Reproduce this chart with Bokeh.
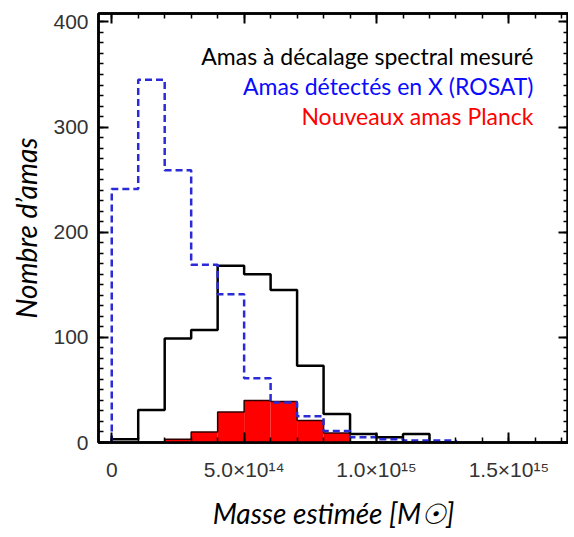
import numpy as np
from bokeh.plotting import figure
from bokeh.models import (LinearAxis, FixedTicker, CustomJSTickFormatter, Label, Range1d,
                          CustomLabelingPolicy)
from bokeh.embed import file_html
from bokeh.resources import INLINE

# ---- data ----
bin_edges = [k * 1e14 for k in range(0, 14)]          # 13 bins of 1e14 Msun
spectro = [3, 31, 99, 107, 168, 160, 145, 73, 27, 8, 5, 8, 0]      # Amas à décalage spectral mesuré
rosat   = [241, 345, 259, 169, 141, 61, 38, 25, 11, 5, 3, 2, 2]    # Amas détectés en X (ROSAT)
planck  = [0, 0, 3, 10, 29, 40, 39, 21, 9, 0, 0, 0, 0]             # Nouveaux amas Planck

x_ticks = [0, 5e14, 1e15, 1.5e15]
x_tick_labels = ["0", "5.0×10¹⁴", "1.0×10¹⁵", "1.5×10¹⁵"]
y_ticks = [0, 100, 200, 300, 400]

legend_texts = ["Amas à décalage spectral mesuré", "Amas détectés en X (ROSAT)", "Nouveaux amas Planck"]
legend_colors = ["#000000", "#0a0aff", "#ff0000"]


def step_outline(edges, counts):
    xs, ys = [edges[0]], [0]
    for i, c in enumerate(counts):
        xs += [edges[i], edges[i + 1]]
        ys += [c, c]
    xs.append(edges[len(counts)])
    ys.append(0)
    return xs, ys


p = figure(frame_width=470, frame_height=429, output_backend="svg", toolbar_location=None,
           x_range=Range1d(-0.5e14, 17.25e14), y_range=Range1d(0, 408),
           min_border_left=98, min_border_right=0, min_border_top=13, min_border_bottom=94,
           background_fill_color="white", border_fill_color="white")
p.grid.visible = False
p.outline_line_color = "black"
p.outline_line_width = 2.5

# red filled histogram (Planck)
left = bin_edges[:-1]
right = bin_edges[1:]
p.quad(left=left, right=right, bottom=[0] * len(planck), top=planck,
       fill_color="#ff0000", line_color=None)
px, py = step_outline(bin_edges, planck)
p.line(px, py, line_color="#300000", line_width=1.5)

# black histogram
sx, sy = step_outline(bin_edges, spectro)
p.line(sx, sy, line_color="black", line_width=2.5)

# blue dashed histogram
rx, ry = step_outline(bin_edges, rosat)
p.line(rx, ry, line_color="#2a2ad6", line_width=2.5, line_dash="7 4")

# ---- axes ----
label_font = "Liberation Sans"
title_font = "Lato"

xticker = FixedTicker(ticks=x_ticks, minor_ticks=[k * 1e14 for k in range(0, 18)])
yticker = FixedTicker(ticks=y_ticks, minor_ticks=list(range(0, 410, 10)))

fmt = CustomJSTickFormatter(args=dict(vals=x_ticks, labs=x_tick_labels), code="""
    for (let i = 0; i < vals.length; i++) {
        if (Math.abs(tick - vals[i]) < 1e10) return labs[i];
    }
    return "";
""")

xa = p.xaxis[0]
xa.ticker = xticker
xa.formatter = fmt
ya = p.yaxis[0]
ya.ticker = yticker

for ax in (xa, ya):
    ax.axis_line_width = 2.5
    ax.axis_line_color = "black"
    ax.major_tick_in = 10
    ax.major_tick_out = 0
    ax.minor_tick_in = 5
    ax.minor_tick_out = 0
    ax.major_tick_line_width = 2
    ax.minor_tick_line_width = 1.5
    ax.major_label_text_font = label_font
    ax.major_label_text_font_size = "21px"
    ax.major_label_text_color = "#333333"
    ax.axis_label_text_font = title_font
    ax.axis_label_text_font_style = "italic"
    ax.axis_label_text_font_size = "28px"
    ax.axis_label_text_color = "black"

xa.major_label_standoff = 15
xa.axis_label = "Masse estimée [M☉]"
xa.axis_label_standoff = 12
ya.major_label_standoff = 10
ya.axis_label = "Nombre d’amas"
ya.axis_label_standoff = 7

# mirrored axes (top / right) with ticks only, no labels drawn
for loc, tk in (("above", xticker), ("right", yticker)):
    ax = LinearAxis(ticker=tk,
                    formatter=CustomJSTickFormatter(code="return ''"),
                    major_label_policy=CustomLabelingPolicy(code="for (const i of indices) indices.unset(i)"))
    ax.axis_line_width = 2.5
    ax.major_tick_in = 10
    ax.major_tick_out = 0
    ax.minor_tick_in = 5
    ax.minor_tick_out = 0
    ax.major_tick_line_width = 2
    ax.minor_tick_line_width = 1.5
    ax.major_label_standoff = 0
    ax.major_label_text_font_size = "1px"
    p.add_layout(ax, loc)

# ---- legend texts ----
for i, (t, c) in enumerate(zip(legend_texts, legend_colors)):
    p.add_layout(Label(x=435, y=387 - 30 * i, x_units="screen", y_units="screen",
                       text=t, text_color=c, text_font=title_font, text_font_size="23px",
                       text_align="right", text_baseline="alphabetic"))

open("out.html", "w").write(file_html(p, INLINE))
